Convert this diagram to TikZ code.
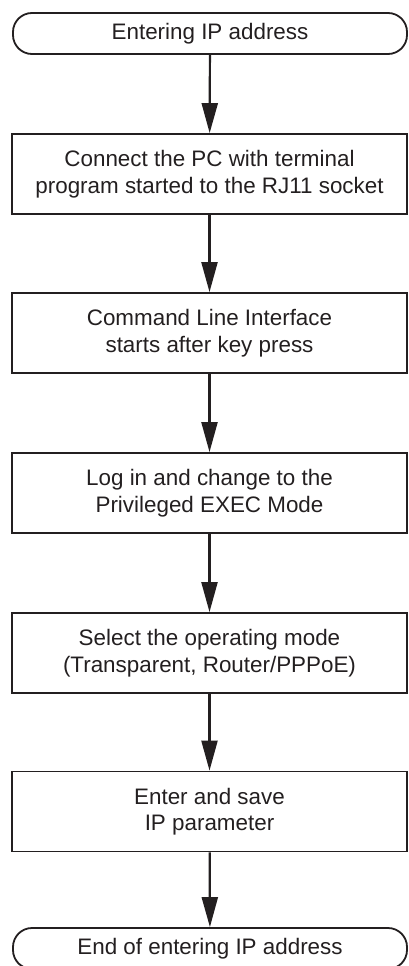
\documentclass[tikz,border=0pt]{standalone}
\usepackage{fontspec}
\setmainfont{Liberation Sans}
\usetikzlibrary{arrows.meta}
\definecolor{ink}{HTML}{231F20}
\begin{document}
\begin{tikzpicture}[x=1pt,y=-1pt,
  stepbox/.style={draw=ink, line width=1.8pt, rectangle, minimum width=395pt, minimum height=80pt,
    inner sep=0pt, align=center, text=ink, font=\fontsize{22.4pt}{26.5pt}\selectfont},
  terminal/.style={draw=ink, line width=1.8pt, rectangle, rounded corners=19pt, minimum width=394pt,
    minimum height=41pt, inner sep=0pt, align=center, text=ink, font=\fontsize{22.4pt}{26.5pt}\selectfont},
  flow/.style={draw=ink, line width=2.2pt, -{Triangle[length=30pt,width=16pt]}}]
\useasboundingbox (0,0) rectangle (408,966);
\clip (0,0) rectangle (408,966);
\node[terminal] (start) at (210,33.5) {Entering IP address};
\node[stepbox] (b1) at (209.5,174) {Connect the PC with terminal\\program started to the RJ11 socket};
\node[stepbox] (b2) at (209.5,333) {Command Line Interface\\starts after key press};
\node[stepbox] (b3) at (209.5,493) {Log in and change to the\\Privileged EXEC Mode};
\node[stepbox] (b4) at (209.5,653) {Select the operating mode\\(Transparent, Router/PPPoE)};
\node[stepbox] (b5) at (209.5,811.5) {Enter and save\\IP parameter};
\node[terminal] (end) at (210,948.5) {End of entering IP address};
\draw[flow] (start) -- (b1);
\draw[flow] (b1) -- (b2);
\draw[flow] (b2) -- (b3);
\draw[flow] (b3) -- (b4);
\draw[flow] (b4) -- (b5);
\draw[flow] (b5) -- (end);
\end{tikzpicture}
\end{document}
